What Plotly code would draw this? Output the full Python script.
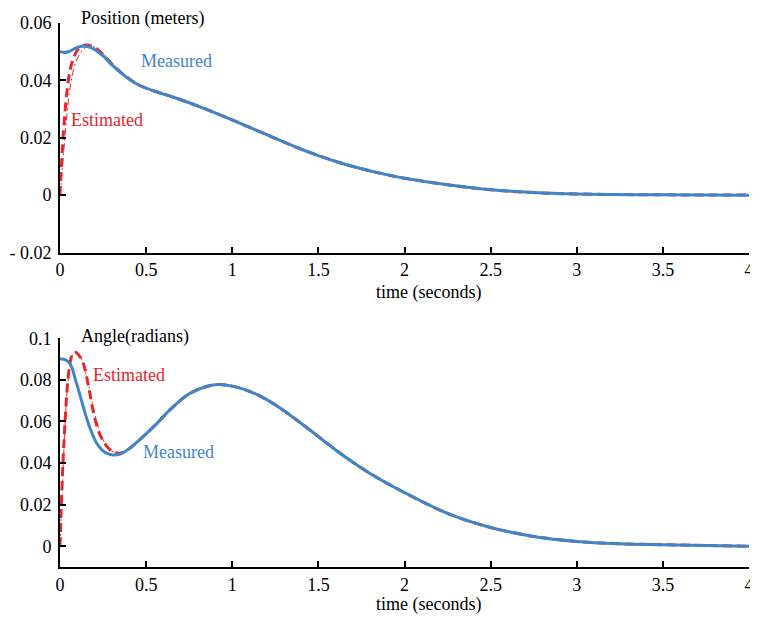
import plotly.graph_objects as go

# The page body has an 8px margin, so the figure is drawn 8px in from the window edge.
OFF = 8
W, H = 758 - OFF, 620 - OFF

# ---------------- data ----------------
pos_t_meas = [0, 0.03, 0.06, 0.1, 0.13, 0.16, 0.2, 0.25, 0.3, 0.35, 0.4, 0.46, 0.55, 0.65,
              0.75, 0.85, 1.0, 1.125, 1.25, 1.375, 1.5, 1.625, 1.75, 1.875, 2.0, 2.25,
              2.5, 2.75, 3.0, 3.5, 4.0]
pos_meas = [0.0500, 0.0497, 0.0503, 0.0515, 0.0519, 0.0518, 0.0508, 0.0485, 0.0455, 0.0428,
            0.0405, 0.0383, 0.0362, 0.0343, 0.0322, 0.0299, 0.0262, 0.0230, 0.0198, 0.0166,
            0.0138, 0.0113, 0.0092, 0.0074, 0.0059, 0.0036, 0.0019, 0.0009, 0.0004, 0.0001,
            0.0000]

pos_t_est = [0, 0.01, 0.02, 0.04, 0.06, 0.08, 0.1, 0.12, 0.15, 0.18, 0.21, 0.25, 0.3, 0.35,
             0.4, 0.46, 0.55, 0.65, 0.75, 0.85, 1.0, 1.125, 1.25, 1.375, 1.5, 1.625, 1.75,
             1.875, 2.0, 2.25, 2.5, 2.75, 3.0, 3.5, 4.0]
pos_est = [0.0, 0.012, 0.022, 0.036, 0.044, 0.048, 0.0505, 0.0517, 0.0523, 0.0520, 0.0512,
           0.0490, 0.0458, 0.0430, 0.0406, 0.0383, 0.0362, 0.0343, 0.0322, 0.0299, 0.0262,
           0.0230, 0.0198, 0.0166, 0.0138, 0.0113, 0.0092, 0.0074, 0.0059, 0.0036, 0.0019,
           0.0009, 0.0004, 0.0001, 0.0000]

pos_t_est2 = [0, 0.02, 0.04, 0.06, 0.08, 0.1, 0.13, 0.16, 0.2, 0.25, 0.3, 0.35, 0.4]
pos_est2 = [0.0, 0.014, 0.028, 0.038, 0.044, 0.0475, 0.0505, 0.0518, 0.0517, 0.0495, 0.0462,
            0.0433, 0.0407]

ang_t_meas = [0, 0.03, 0.06, 0.09, 0.12, 0.15, 0.18, 0.21, 0.24, 0.27, 0.3, 0.33, 0.36, 0.4,
              0.46, 0.55, 0.65, 0.75, 0.85, 0.92, 1.0, 1.1, 1.2, 1.3, 1.43, 1.55, 1.65, 1.8,
              2.0, 2.25, 2.5, 2.75, 3.0, 3.25, 3.5, 4.0]
ang_meas = [0.0900, 0.0897, 0.0875, 0.0800, 0.0715, 0.0628, 0.0555, 0.0500, 0.0466, 0.0448,
            0.0440, 0.0440, 0.0447, 0.0468, 0.0510, 0.0580, 0.0665, 0.0733, 0.0768, 0.0778,
            0.0770, 0.0745, 0.0705, 0.0652, 0.0572, 0.0495, 0.0433, 0.0350, 0.0258, 0.0158,
            0.0090, 0.0047, 0.0023, 0.0012, 0.0007, 0.0000]

ang_t_est = [0, 0.01, 0.02, 0.03, 0.045, 0.06, 0.075, 0.09, 0.11, 0.13, 0.145, 0.17, 0.19,
             0.21, 0.23, 0.25, 0.28, 0.31, 0.34, 0.37, 0.4, 0.46, 0.55, 0.65, 0.75, 0.85,
             0.92, 1.0, 1.1, 1.2, 1.3, 1.43, 1.55, 1.65, 1.8, 2.0, 2.25, 2.5, 2.75, 3.0,
             3.25, 3.5, 4.0]
ang_est = [0.0, 0.025, 0.045, 0.061, 0.079, 0.089, 0.0928, 0.0933, 0.0918, 0.0892, 0.0850,
           0.0750, 0.0660, 0.0590, 0.0540, 0.0508, 0.0472, 0.0453, 0.0447, 0.0452, 0.0468,
           0.0510, 0.0580, 0.0665, 0.0733, 0.0768, 0.0778, 0.0770, 0.0745, 0.0705, 0.0652,
           0.0572, 0.0495, 0.0433, 0.0350, 0.0258, 0.0158, 0.0090, 0.0047, 0.0023, 0.0012,
           0.0007, 0.0000]

ang_t_est2 = [0, 0.015, 0.03, 0.05, 0.07, 0.09, 0.11, 0.13, 0.15, 0.17, 0.19, 0.21, 0.24,
              0.27, 0.3, 0.33, 0.36, 0.4]
ang_est2 = [0.0, 0.030, 0.060, 0.082, 0.0915, 0.0935, 0.0925, 0.0890, 0.0830, 0.0760, 0.0680,
            0.0610, 0.0530, 0.0483, 0.0458, 0.0448, 0.0450, 0.0468]

x_ticks = [0, 0.5, 1, 1.5, 2, 2.5, 3, 3.5, 4]
x_ticktext = ["0", "0.5", "1", "1.5", "2", "2.5", "3", "3.5", "4"]
pos_ticks = [-0.02, 0, 0.02, 0.04, 0.06]
pos_ticktext = ["- 0.02", "0", "0.02", "0.04", "0.06"]
ang_ticks = [0, 0.02, 0.04, 0.06, 0.08, 0.1]
ang_ticktext = ["0", "0.02", "0.04", "0.06", "0.08", "0.1"]

BLUE = "#3f86c9"
RED = "#e8262c"
FONT = "Liberation Serif"

fig = go.Figure()

def add_set(tm, ym, te, ye, te2, ye2, xa, ya):
    fig.add_trace(go.Scatter(x=te2, y=ye2, mode="lines", xaxis=xa, yaxis=ya,
                             line=dict(color=RED, width=1, dash="7px,3px,2px,3px", shape="spline"),
                             showlegend=False))
    fig.add_trace(go.Scatter(x=te, y=ye, mode="lines", xaxis=xa, yaxis=ya,
                             line=dict(color=RED, width=3, dash="9px,5px", shape="spline"),
                             showlegend=False))
    fig.add_trace(go.Scatter(x=tm, y=ym, mode="lines", xaxis=xa, yaxis=ya,
                             line=dict(color=BLUE, width=3, shape="spline"),
                             showlegend=False))

add_set(pos_t_meas, pos_meas, pos_t_est, pos_est, pos_t_est2, pos_est2, "x", "y")
add_set(ang_t_meas, ang_meas, ang_t_est, ang_est, ang_t_est2, ang_est2, "x2", "y2")

def px_x(p):
    return (p - OFF) / W

def px_y(p):
    return 1 - (p - OFF) / H

xdom = [px_x(60), px_x(749)]
axis_common = dict(showline=True, linecolor="black", linewidth=2, ticks="inside",
                   ticklen=6, tickwidth=1.5, tickcolor="black", showgrid=False,
                   zeroline=False, tickfont=dict(family=FONT, size=18, color="black"),
                   automargin=False, mirror=False)

fig.update_layout(
    width=W, height=H,
    margin=dict(l=0, r=0, t=0, b=0),
    paper_bgcolor="white", plot_bgcolor="white",
    font=dict(family=FONT, size=18, color="black"),
    xaxis=dict(domain=xdom, range=[0, 4], tickvals=x_ticks, ticktext=x_ticktext,
               anchor="y", **axis_common),
    yaxis=dict(domain=[px_y(252.5), px_y(23)], range=[-0.02, 0.06], tickvals=pos_ticks,
               ticktext=pos_ticktext, anchor="x", ticklabelstandoff=3, **axis_common),
    xaxis2=dict(domain=xdom, range=[0, 4], tickvals=x_ticks, ticktext=x_ticktext,
                anchor="y2", **axis_common),
    yaxis2=dict(domain=[px_y(567), px_y(338.3)], range=[-0.01, 0.1], tickvals=ang_ticks,
                ticktext=ang_ticktext, anchor="x2", ticklabelstandoff=3, **axis_common),
)

def label(text, xl, yc, color="black", anchor="left"):
    fig.add_annotation(text=text, x=px_x(xl), y=px_y(yc), xref="paper", yref="paper",
                       xanchor=anchor, yanchor="middle", showarrow=False,
                       font=dict(family=FONT, size=18, color=color))

label("Position (meters)", 79, 18)
label("Measured", 139, 61, BLUE)
label("Estimated", 69, 120, RED)
label("time (seconds)", 428, 292, anchor="center")
label("Angle(radians)", 79, 336)
label("Estimated", 91, 375, RED)
label("Measured", 141, 452, BLUE)
label("time (seconds)", 428, 604, anchor="center")

fig.write_html("out.html")
